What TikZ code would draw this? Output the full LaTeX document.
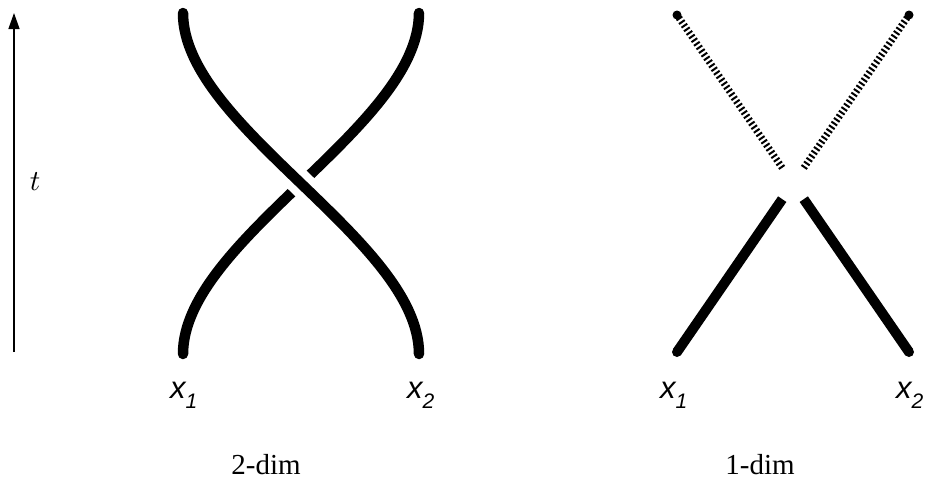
\documentclass[tikz,border=0pt]{standalone}
\usepackage{graphicx}
\usepackage{fontspec}
\setmainfont{Liberation Serif}
\newfontfamily\lsans{Liberation Sans}
\usetikzlibrary{calc,arrows.meta}
\begin{document}
\begin{tikzpicture}[x=1pt,y=-1pt,
  strand/.style={line width=10.5pt,line cap=round},
  gapstrand/.style={line width=26pt,white},
  solidw/.style={line width=10pt},
  ghost/.style={line width=7pt,dash pattern=on 2pt off 2.4pt},
  endcap/.style={fill=black,circle,inner sep=0pt,minimum size=10pt},
  enddot/.style={fill=black,circle,inner sep=0pt,minimum size=9pt},
  lab/.style={inner sep=0pt,anchor=base west,font=\lsans\itshape\fontsize{31}{31}\selectfont},
  caption/.style={inner sep=0pt,anchor=base,font=\fontsize{29}{29}\selectfont}]
\useasboundingbox (0,0) rectangle (930,483);
% time axis
\coordinate (t0) at (14,352);
\coordinate (t1) at (14,13);
\draw[line width=1.3pt,-{Triangle[length=16pt,width=11pt]}] (t0) -- (t1);
\node[inner sep=0pt] (tl) at (35,182) {\scalebox{2.9}{$t$}};
% 2-dim braid
\coordinate (p1) at (183,354);
\coordinate (p2) at (419,354);
\coordinate (q1) at (183,13);
\coordinate (q2) at (419,13);
\draw[strand] (p1) .. controls (183,240) and (419,127) .. (q2);
\draw[gapstrand] (p2) .. controls (419,240) and (183,127) .. (q1);
\draw[strand] (p2) .. controls (419,240) and (183,127) .. (q1);
\node[lab] (lx1) at (170,398) {x\raisebox{-10pt}{\fontsize{21}{21}\selectfont 1}};
\node[lab] (lx2) at (407,398) {x\raisebox{-10pt}{\fontsize{21}{21}\selectfont 2}};
\node[caption] (c2) at (266,474) {2-dim};
% 1-dim
\coordinate (C) at (793,183.5);
\coordinate (A0) at (677,352);
\coordinate (A1) at (909,15);
\coordinate (B0) at (909,352);
\coordinate (B1) at (677,15);
\node[endcap] (ea) at (A0) {};
\node[endcap] (eb) at (B0) {};
\draw[solidw] (ea.center) -- ($(C)!19pt!(A0)$);
\draw[solidw] (eb.center) -- ($(C)!19pt!(B0)$);
\node[enddot] (da) at (A1) {};
\node[enddot] (db) at (B1) {};
\draw[ghost] ($(C)!19pt!(A1)$) -- (da.center);
\draw[ghost] ($(C)!19pt!(B1)$) -- (db.center);
\node[lab] (ly1) at (660,398) {x\raisebox{-10pt}{\fontsize{21}{21}\selectfont 1}};
\node[lab] (ly2) at (896,398) {x\raisebox{-10pt}{\fontsize{21}{21}\selectfont 2}};
\node[caption] (c1) at (760,474) {1-dim};
\end{tikzpicture}
\end{document}
